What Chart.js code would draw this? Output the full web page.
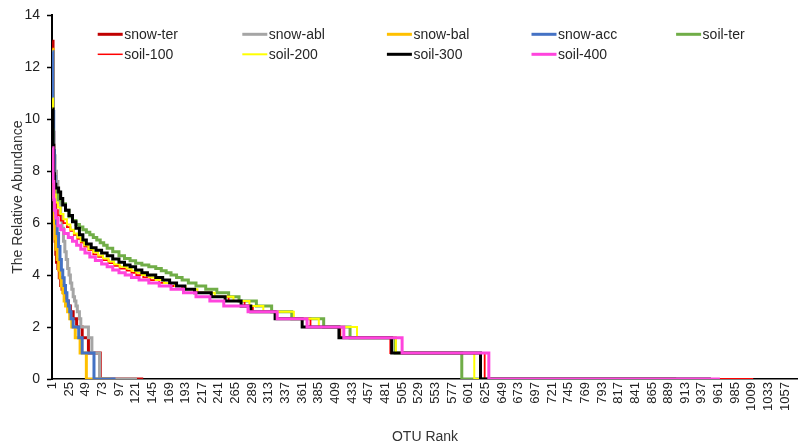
<!DOCTYPE html>
<html><head><meta charset="utf-8">
<script src="https://cdn.jsdelivr.net/npm/chart.js@4.4.1/dist/chart.umd.min.js"></script>
<style>html,body{margin:0;padding:0;background:#fff;overflow:hidden}canvas{display:block}</style>
</head><body>
<canvas id="c" width="798" height="446"></canvas>
<script>
// ---- data ----
const seriesNames = ['snow-ter','snow-abl','snow-bal','snow-acc','soil-ter','soil-100','soil-200','soil-300','soil-400'];

const snowTerRank  = [1,2,3,4,5,6,7,9,11,13,15,17,19,21,24,27,31,36,44,53,70,132];
const snowTerValue = [13.0,9.5,7.5,6.2,5.3,4.8,4.5,4.25,3.9,3.6,3.46,3.32,3.17,3.0,2.807,2.585,2.322,2.0,1.585,1.0,0,0];

const snowAblRank  = [1,2,3,5,7,9,11,13,15,17,19,21,23,25,27,29,31,33,35,37,40,42,53,58,69,123];
const snowAblValue = [11.2,9.5,8.6,8.0,7.6,7.2,6.8,6.3,5.8,5.3,4.9,4.6,4.25,4.0,3.7,3.46,3.17,3.0,2.807,2.585,2.322,2.0,1.585,1.0,0,0];

const snowBalRank  = [1,2,3,4,5,6,8,10,12,14,16,18,20,23,26,29,34,41,50,85];
const snowBalValue = [12.7,9.0,7.0,6.0,5.4,5.0,4.6,4.2,3.9,3.58,3.32,3.0,2.807,2.585,2.322,2.0,1.585,1.0,0,0];

const snowAccRank  = [1,2,3,4,5,6,7,8,10,12,14,16,18,20,22,24,26,28,31,39,44,61,92];
const snowAccValue = [12.6,10.3,8.8,7.8,7.0,6.4,6.0,5.6,5.1,4.6,4.2,3.9,3.6,3.32,3.0,2.807,2.585,2.322,2.0,1.585,1.0,0,0];

const soilTerRank  = [1,2,3,4,6,10,15,20,25,30,35,40,45,50,55,60,65,70,75,80,88,97,105,113,121,130,140,150,158,165,172,180,188,197,208,222,238,255,270,295,317,346,392,430,495,591,900];
const soilTerValue = [9.6,8.2,7.7,7.4,7.1,6.9,6.75,6.5,6.25,6.1,5.95,5.85,5.75,5.65,5.55,5.45,5.35,5.25,5.15,5.03,4.9,4.75,4.64,4.55,4.46,4.39,4.32,4.25,4.17,4.09,4.0,3.91,3.81,3.70,3.58,3.46,3.32,3.17,3.0,2.807,2.585,2.322,2.0,1.585,1.0,0,0];

const soil100Rank  = [1,2,3,4,6,9,13,17,22,27,32,37,42,47,53,60,67,74,82,90,98,108,115,122,132,142,155,172,188,205,230,255,278,290,322,373,416,488,624,1011];
const soil100Value = [9.8,8.3,7.3,6.8,6.5,6.3,6.1,6.0,5.85,5.7,5.55,5.4,5.25,5.1,4.96,4.8,4.7,4.58,4.46,4.36,4.25,4.17,4.09,4.0,3.91,3.81,3.70,3.58,3.46,3.32,3.17,3.0,2.807,2.585,2.322,2.0,1.585,1.0,0,0];

const soil200Rank  = [1,2,3,4,6,9,13,17,22,27,32,37,42,47,53,60,67,74,82,90,98,108,115,122,130,140,150,162,178,193,210,235,262,285,305,349,385,440,496,609,940];
const soil200Value = [10.8,8.6,7.6,7.1,6.8,6.6,6.35,6.15,5.95,5.75,5.6,5.45,5.3,5.15,5.0,4.88,4.76,4.64,4.52,4.42,4.32,4.25,4.17,4.09,4.0,3.91,3.81,3.70,3.58,3.46,3.32,3.17,3.0,2.807,2.585,2.322,2.0,1.585,1.0,0,0];

const soil300Rank  = [1,2,3,4,6,10,13,16,20,25,30,35,40,45,50,57,64,72,80,88,97,105,113,121,130,138,150,160,170,180,192,206,230,250,273,287,322,361,414,490,618,950];
const soil300Value = [10.4,9.0,7.9,7.5,7.35,7.2,6.95,6.7,6.5,6.3,6.05,5.8,5.55,5.35,5.2,5.05,4.96,4.85,4.75,4.62,4.5,4.39,4.32,4.2,4.09,4.0,3.91,3.81,3.70,3.58,3.46,3.32,3.17,3.0,2.807,2.585,2.322,2.0,1.585,1.0,0,0];

const soil400Rank  = [1,2,3,4,6,9,13,18,24,30,36,42,48,55,63,72,80,88,97,106,115,126,140,155,172,190,208,228,248,283,325,368,421,505,630,963];
const soil400Value = [8.9,7.6,6.9,6.5,6.2,5.9,5.75,5.6,5.45,5.3,5.15,5.0,4.85,4.7,4.56,4.43,4.32,4.2,4.09,4.0,3.91,3.81,3.70,3.58,3.46,3.32,3.17,3.0,2.807,2.585,2.322,2.0,1.585,1.0,0,0];

const xTickLabels = [1,25,49,73,97,121,145,169,193,217,241,265,289,313,337,361,385,409,433,457,481,505,529,553,577,601,625,649,673,697,721,745,769,793,817,841,865,889,913,937,961,985,1009,1033,1057];
const yTickLabels = [0,2,4,6,8,10,12,14];
const rankCount = 1075;

// ---- styles ----
const seriesColors = ['#C00000','#A5A5A5','#FFC000','#4472C4','#70AD47','#FF0000','#FFFF00','#000000','#FF44DD'];
const seriesWidths = [3,3,3,3,3,1.8,2,3,3];
const legendWidths = [3,3,3,3,3,1.5,2,3,3];

const rankArrays = [snowTerRank,snowAblRank,snowBalRank,snowAccRank,soilTerRank,soil100Rank,soil200Rank,soil300Rank,soil400Rank];
const valueArrays = [snowTerValue,snowAblValue,snowBalValue,snowAccValue,soilTerValue,soil100Value,soil200Value,soil300Value,soil400Value];

Chart.defaults.font.family = '"Liberation Sans", Arial, sans-serif';
Chart.defaults.color = '#222';

const datasets = seriesNames.map((name,i)=>({
  label: name,
  data: rankArrays[i].map((r,k)=>({x:r, y:valueArrays[i][k]})),
  borderColor: seriesColors[i],
  backgroundColor: seriesColors[i],
  borderWidth: seriesWidths[i],
  pointRadius: 0,
  stepped: true,
  fill: false,
  tension: 0,
  order: seriesNames.length - 1 - i,
  borderCapStyle: 'butt',
  borderJoinStyle: 'miter'
}));

const gridLegend = {
  id: 'gridLegend',
  afterDatasetsDraw(chart){
    const ctx = chart.ctx;
    ctx.save();
    ctx.font = '14px "Liberation Sans", Arial, sans-serif';
    ctx.textBaseline = 'middle';
    ctx.textAlign = 'left';
    seriesNames.forEach((name,i)=>{
      const col = i % 5, row = Math.floor(i / 5);
      const x = 97.7 + col * 144.6, y = 34.3 + row * 20;
      ctx.strokeStyle = seriesColors[i];
      ctx.lineWidth = legendWidths[i];
      ctx.beginPath(); ctx.moveTo(x, y); ctx.lineTo(x + 25, y); ctx.stroke();
      ctx.fillStyle = '#262626';
      ctx.fillText(name, x + 26.5, y + 0.5);
    });
    ctx.restore();
  }
};

new Chart(document.getElementById('c'), {
  type: 'line',
  data: { datasets },
  options: {
    responsive: false,
    animation: false,
    events: [],
    layout: { padding: { top: 15, left: 0, right: 0, bottom: 0 } },
    plugins: { legend: { display: false }, tooltip: { enabled: false } },
    scales: {
      x: {
        type: 'linear',
        min: 0.5,
        max: rankCount + 0.5,
        afterBuildTicks: (scale) => { scale.ticks = xTickLabels.map(v => ({ value: v })); },
        afterFit: (scale) => { scale.height = 67; scale.paddingLeft = 0; scale.paddingRight = 0; },
        ticks: {
          autoSkip: false, minRotation: 90, maxRotation: 90, padding: 3,
          font: { size: 13 }, color: '#222',
          callback: (v) => String(v)
        },
        grid: { display: true, drawOnChartArea: false, drawTicks: false },
        border: { display: true, color: '#000', width: 1.5 },
        title: { display: true, text: 'OTU Rank', font: { size: 14 }, color: '#333', padding: { top: 0, bottom: 0 } }
      },
      y: {
        type: 'linear',
        min: 0, max: 14,
        afterBuildTicks: (scale) => { scale.ticks = yTickLabels.map(v => ({ value: v })); },
        afterFit: (scale) => { scale.width = 52; },
        ticks: { font: { size: 14 }, color: '#222', padding: 7 },
        grid: { display: true, drawOnChartArea: false, drawTicks: true, tickLength: 5, color: '#000', tickWidth: 1.5 },
        border: { display: true, color: '#000', width: 2 },
        title: { display: true, text: 'The Relative Abundance', font: { size: 14 }, color: '#333', padding: { top: 10, bottom: 0 } }
      }
    }
  },
  plugins: [gridLegend]
});
</script>
</body></html>
